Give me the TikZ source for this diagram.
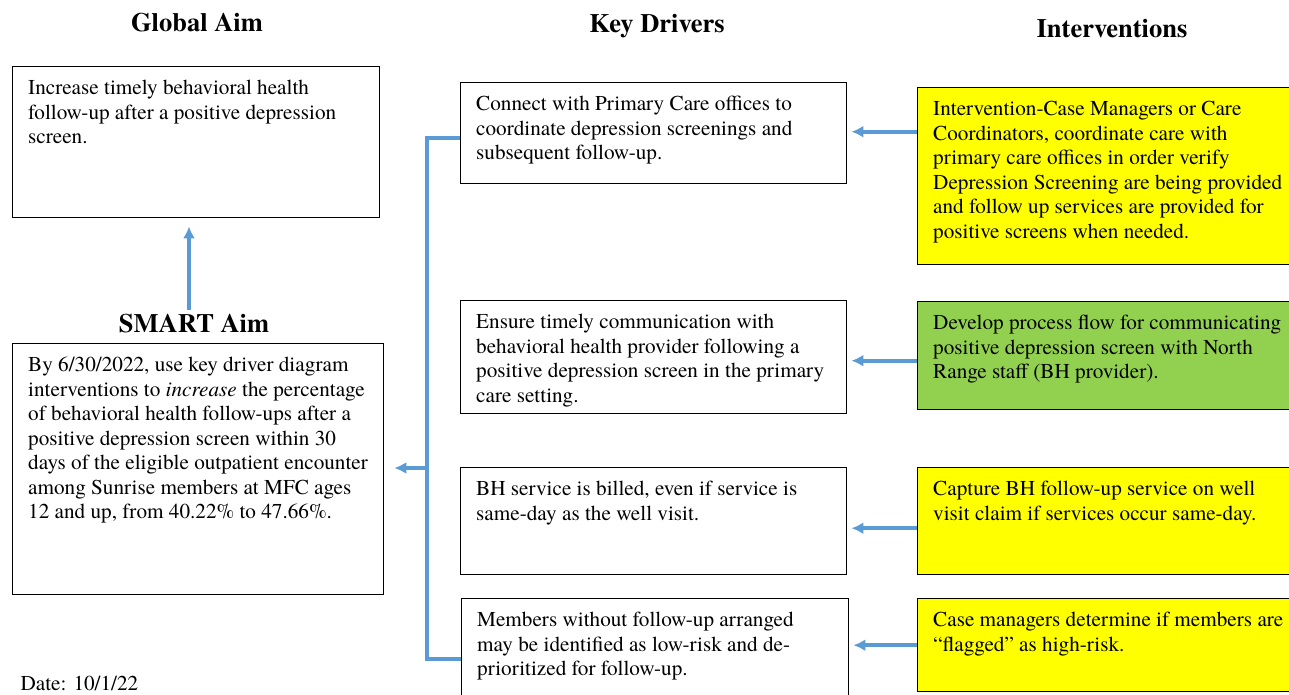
\documentclass[tikz,border=0pt]{standalone}
\usepackage{fontspec}
\setmainfont{texgyretermes}[Extension=.otf, UprightFont=*-regular, BoldFont=*-bold, ItalicFont=*-italic, BoldItalicFont=*-bolditalic]
\usepackage{xcolor}
\usepackage{tikz}
\usetikzlibrary{shapes.geometric, arrows, arrows.meta}

\definecolor{linkblue}{RGB}{91,155,213}
\definecolor{ivyellow}{RGB}{255,255,0}
\definecolor{ivgreen}{RGB}{146,208,80}

% top aligned text inside a box: width, height, text
\newcommand{\boxtext}[3]{\parbox[t][#2][t]{#1}{\raggedright\strut #3}}

\begin{document}
\begin{tikzpicture}[x=1pt, y=-1pt]
    % Define the styles
    \tikzstyle{box} = [rectangle, draw, line width=1.4pt, anchor=north west, inner xsep=15.5pt, inner ysep=11pt, font=\fontsize{21.2}{24.5}\selectfont]
    \tikzstyle{title} = [anchor=base, font=\fontsize{26.5}{30}\selectfont\bfseries]
    \tikzstyle{line} = [draw, -{Latex[length=12pt, width=12pt]}, line width=3.6pt, linkblue]
    \tikzstyle{link} = [draw, line width=3.6pt, linkblue]

    \clip (0,0) rectangle (1289,694);

    % Titles
    \node [title] (globaltitle) at (197,31.5) {Global Aim};
    \node [title] (smarttitle) at (194,332) {SMART Aim};
    \node [title] (drivertitle) at (657,32) {Key Drivers};
    \node [title] (ivtitle) at (1112,37) {Interventions};

    % Aims
    \node [box] (global) at (12,66) {\boxtext{336pt}{129pt}{Increase timely behavioral health\\follow-up after a positive depression\\screen.}};
    \node [box] (smart) at (12,343) {\boxtext{340pt}{229pt}{By 6/30/2022, use key driver diagram\\interventions to \textit{increase} the percentage\\of behavioral health follow-ups after a\\positive depression screen within 30\\days of the eligible outpatient encounter\\among Sunrise members at MFC ages\\12 and up, from 40.22\% to 47.66\%.}};
    \node [anchor=base west, font=\fontsize{21.2}{24.5}\selectfont] (date) at (17,690) {Date: 10/1/22};

    % Key drivers
    \node [box] (kd1) at (460,82) {\boxtext{355pt}{79pt}{Connect with Primary Care offices to\\coordinate depression screenings and\\subsequent follow-up.}};
    \node [box] (kd2) at (460,300) {\boxtext{355pt}{91pt}{Ensure timely communication with\\behavioral health provider following a\\positive depression screen in the primary\\care setting.}};
    \node [box] (kd3) at (460,467) {\boxtext{355pt}{85pt}{BH service is billed, even if service is\\same-day as the well visit.}};
    \node [box] (kd4) at (461,598) {\boxtext{356pt}{98pt}{Members without follow-up arranged\\may be identified as low-risk and de-\\prioritized for follow-up.}};

    % Interventions
    \node [box, fill=ivyellow] (iv1) at (917,87) {\boxtext{354pt}{155pt}{Intervention-Case Managers or Care\\Coordinators, coordinate care with\\primary care offices in order verify\\Depression Screening are being provided\\and follow up services are provided for\\positive screens when needed.}};
    \node [box, fill=ivgreen] (iv2) at (917,301) {\boxtext{354pt}{86pt}{Develop process flow for communicating\\positive depression screen with North\\Range staff (BH provider).}};
    \node [box, fill=ivyellow] (iv3) at (917,467) {\boxtext{354pt}{85pt}{Capture BH follow-up service on well\\visit claim if services occur same-day.}};
    \node [box, fill=ivyellow] (iv4) at (917,598) {\boxtext{354pt}{71pt}{Case managers determine if members are\\“flagged” as high-risk.}};

    % Connect the nodes with paths
    \coordinate (bus) at (427,468);
    \path [link] ([yshift=-4.5pt]kd1.west) -| (bus) |- (kd4.west);
    \path [line, shorten >=10pt] (bus) -- (bus -| smart.east);
    \path [line, shorten >=8pt] ([xshift=-5pt]smarttitle.north) -- ([xshift=-5pt]smarttitle.north |- global.south);

    \path [line, shorten >=4pt] ([yshift=44.5pt]iv1.west) -- ([yshift=44.5pt]iv1.west -| kd1.east);
    \path [line, shorten >=4pt] ([yshift=-5pt]iv2.west) -- ([yshift=-5pt]iv2.west -| kd2.east);
    \path [line, shorten >=4pt] ([yshift=-7pt]iv3.west) -- ([yshift=-7pt]iv3.west -| kd3.east);
    \path [line, shorten >=4pt] (iv4.west) -- (iv4.west -| kd4.east);
\end{tikzpicture}
\end{document}
